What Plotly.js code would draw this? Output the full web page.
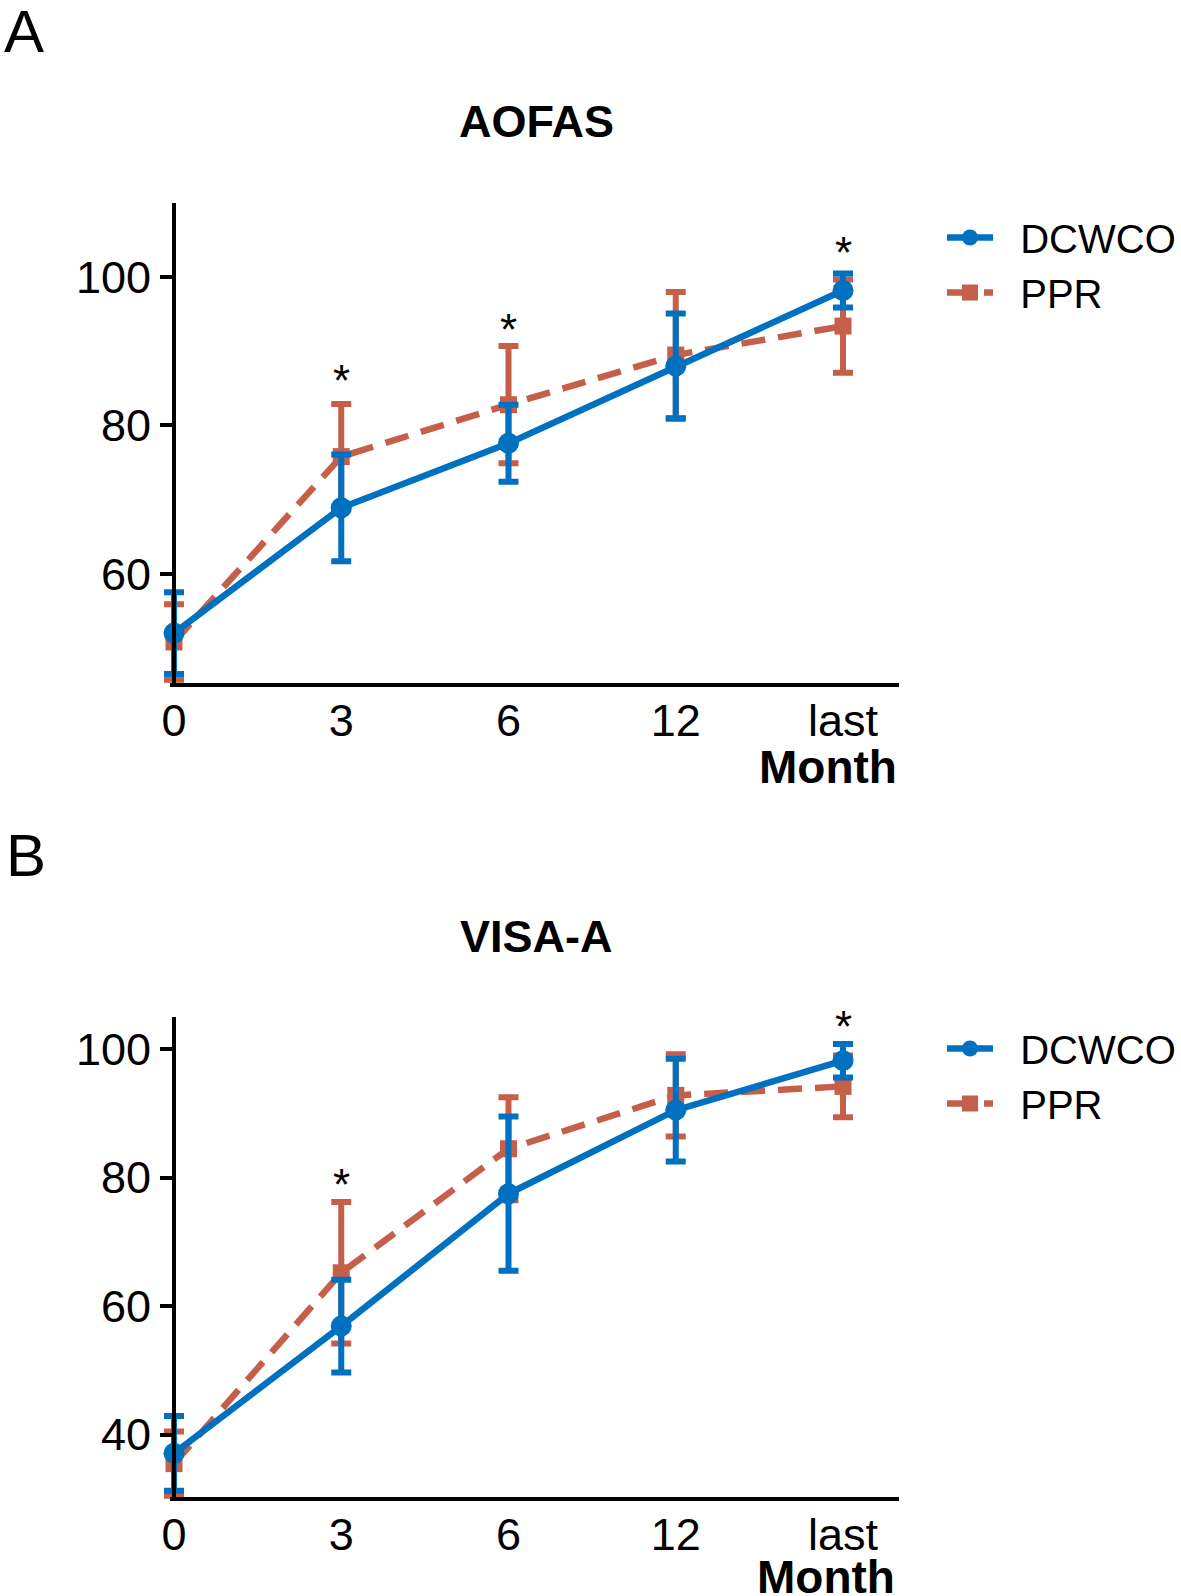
<!DOCTYPE html>
<html>
<head>
<meta charset="utf-8">
<script src="https://cdn.plot.ly/plotly-3.0.1.min.js"></script>
<style>
  html, body { margin: 0; padding: 0; background: #fff; }
  #myDiv { width: 1181px; height: 1596px; }
</style>
</head>
<body>
<div id="myDiv"></div>
<script>
// time points (months), drawn as evenly spaced categories
const months = ['0', '3', '6', '12', 'last'];
const xpos = [0, 1, 2, 3, 4];
const groups = ['DCWCO', 'PPR'];

// AOFAS, mean and SD
const aofasDcwco = [52.0, 68.9, 77.6, 88.0, 98.2];
const aofasDcwcoSd = [5.5, 7.2, 5.2, 7.1, 2.3];
const aofasPpr = [50.8, 75.8, 82.8, 89.5, 93.4];
const aofasPprSd = [5.1, 7.1, 7.9, 8.5, 6.3];
const aofasStars = [null, 86, 93, null, 103.3];

// VISA-A, mean and SD
const visaDcwco = [37.1, 56.9, 77.5, 90.5, 98.2];
const visaDcwcoSd = [5.8, 7.2, 12.0, 8.0, 2.6];
const visaPpr = [35.5, 65.2, 84.5, 92.8, 94.2];
const visaPprSd = [5.0, 11.0, 8.0, 6.4, 4.8];
const visaStars = [null, 79, null, null, 103.5];

const blue = '#0070C0';
const orange = '#C65F4A';
const font = 'Liberation Sans, Arial, sans-serif';
const pad = '\u00A0\u00A0';

function series(y, sd, name, color, xa, ya, legend, isPpr) {
  return {
    x: xpos, y: y,
    name: pad + name,
    type: 'scatter',
    mode: 'lines+markers',
    xaxis: xa, yaxis: ya,
    legend: legend,
    legendrank: isPpr ? 2 : 1,
    cliponaxis: false,
    line: { color: color, width: 6.5, dash: isPpr ? '24px,13px' : 'solid' },
    marker: { color: color, size: isPpr ? 17 : 21, symbol: isPpr ? 'square' : 'circle' },
    error_y: { type: 'data', array: sd, visible: true, color: color, thickness: 6, width: 10 }
  };
}

const traces = [
  series(aofasPpr, aofasPprSd, groups[1], orange, 'x', 'y', 'legend', true),
  series(aofasDcwco, aofasDcwcoSd, groups[0], blue, 'x', 'y', 'legend', false),
  series(visaPpr, visaPprSd, groups[1], orange, 'x2', 'y2', 'legend2', true),
  series(visaDcwco, visaDcwcoSd, groups[0], blue, 'x2', 'y2', 'legend2', false)
];

const W = 1181, H = 1596;
const yLineX = 174;   // y axis line position (px), month 0 sits on it
const xEnd = 899;     // right end of the x axis line (px)
const step = 167.25;  // px between months
const xdom = [150 / W, xEnd / W];
const xrange = [-(yLineX - 150) / step, (xEnd - yLineX) / step];

function xax() {
  return {
    domain: xdom,
    range: xrange,
    tickvals: xpos, ticktext: months,
    showline: false,
    ticks: '', showgrid: false, zeroline: false,
    ticklabelstandoff: 5,
    tickfont: { size: 45, color: '#000', family: font }
  };
}
function yax(dom, range, tv) {
  return {
    domain: dom, anchor: 'free', position: yLineX / W,
    range: range, tickvals: tv,
    showline: true, linewidth: 4, linecolor: '#000',
    ticks: 'outside', ticklen: 12, tickwidth: 4, tickcolor: '#000',
    showgrid: false, zeroline: false,
    tickfont: { size: 45, color: '#000', family: font }
  };
}

// x axis lines start at the y axis, not at the plot edge
const shapes = ['y', 'y2'].map(ya => ({
  type: 'line', layer: 'above',
  xref: 'paper', x0: (yLineX - 4) / W, x1: xEnd / W,
  yref: ya + ' domain', y0: 0, y1: 0,
  line: { color: '#000', width: 4 }
}));

const annotations = [];
function txt(text, x, y, size, bold, xanchor) {
  annotations.push({
    text: bold ? '<b>' + text + '</b>' : text,
    xref: 'paper', yref: 'paper', x: x / W, y: 1 - y / H,
    xanchor: xanchor || 'center', yanchor: 'middle', showarrow: false,
    font: { size: size, color: '#000', family: font }
  });
}
txt('A', 2, 31, 60, false, 'left');
txt('B', 4, 855, 60, false, 'left');
txt('AOFAS', 536, 122, 45, true);
txt('VISA-A', 536, 937, 45, true);
txt('Month', 899, 767, 46, true, 'right');
txt('Month', 897, 1577, 46, true, 'right');

function stars(arr, xr, yr) {
  arr.forEach((v, i) => {
    if (v === null) return;
    annotations.push({
      text: '*', x: xpos[i], y: v, xref: xr, yref: yr,
      showarrow: false, yanchor: 'middle',
      font: { size: 44, color: '#000', family: font }
    });
  });
}
stars(aofasStars, 'x', 'y');
stars(visaStars, 'x2', 'y2');

const legendStyle = {
  x: 1, xanchor: 'right', yanchor: 'top',
  font: { size: 40, color: '#000', family: font },
  bgcolor: 'rgba(0,0,0,0)', itemwidth: 46
};

const layout = {
  width: W, height: H,
  margin: { l: 0, r: 0, t: 0, b: 0 },
  paper_bgcolor: '#fff', plot_bgcolor: '#fff',
  showlegend: true,
  xaxis: Object.assign({ anchor: 'y' }, xax()),
  yaxis: yax([1 - 685 / H, 1 - 203 / H], [45, 110], [60, 80, 100]),
  xaxis2: Object.assign({ anchor: 'y2' }, xax()),
  yaxis2: yax([1 - 1499 / H, 1 - 1017 / H], [30, 105], [40, 60, 80, 100]),
  legend: Object.assign({ y: 1 - 205 / H }, legendStyle),
  legend2: Object.assign({ y: 1 - 1016 / H }, legendStyle),
  shapes: shapes,
  annotations: annotations
};

Plotly.newPlot('myDiv', traces, layout, { staticPlot: true });
</script>
</body>
</html>
